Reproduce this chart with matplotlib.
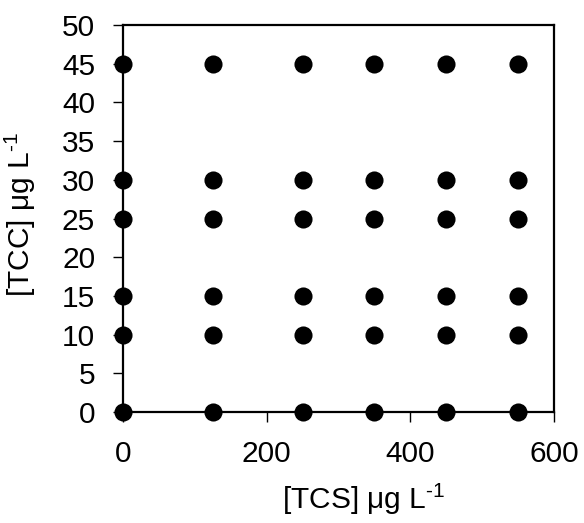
import matplotlib
matplotlib.use("Agg")
import matplotlib.pyplot as plt

tcs = [0, 125, 250, 350, 450, 550]
tcc = [0, 10, 15, 25, 30, 45]
xticks = [0, 200, 400, 600]
yticks = list(range(0, 51, 5))

plt.rcParams['font.family'] = ['Liberation Sans', 'DejaVu Sans']
plt.rcParams['mathtext.default'] = 'regular'
fig = plt.figure(figsize=(5.84, 5.23), dpi=100)
ax = fig.add_axes([0.2106, 0.2122, 0.738, 0.740])

xs = [x for y in tcc for x in tcs]
ys = [y for y in tcc for x in tcs]
ax.scatter(xs, ys, s=170, color='black', clip_on=False, zorder=3, linewidths=0)

ax.set_xlim(0, 600)
ax.set_ylim(0, 50)
ax.set_xticks(xticks)
ax.set_yticks(yticks)
ax.tick_params(labelsize=21.5, direction='out', length=7, width=1)
ax.tick_params(axis='x', pad=13)
ax.tick_params(axis='y', pad=13)
for s in ax.spines.values():
    s.set_linewidth(1.6)
ax.set_xlabel('[TCS] μg L$^{\u2010 1}$', fontsize=21.5)
ax.set_ylabel('[TCC] μg L$^{\u2010 1}$', fontsize=21.5)
ax.xaxis.set_label_coords(0.559, -0.18)
ax.yaxis.set_label_coords(-0.197, 0.51)
fig.savefig('out.png', dpi=100)
